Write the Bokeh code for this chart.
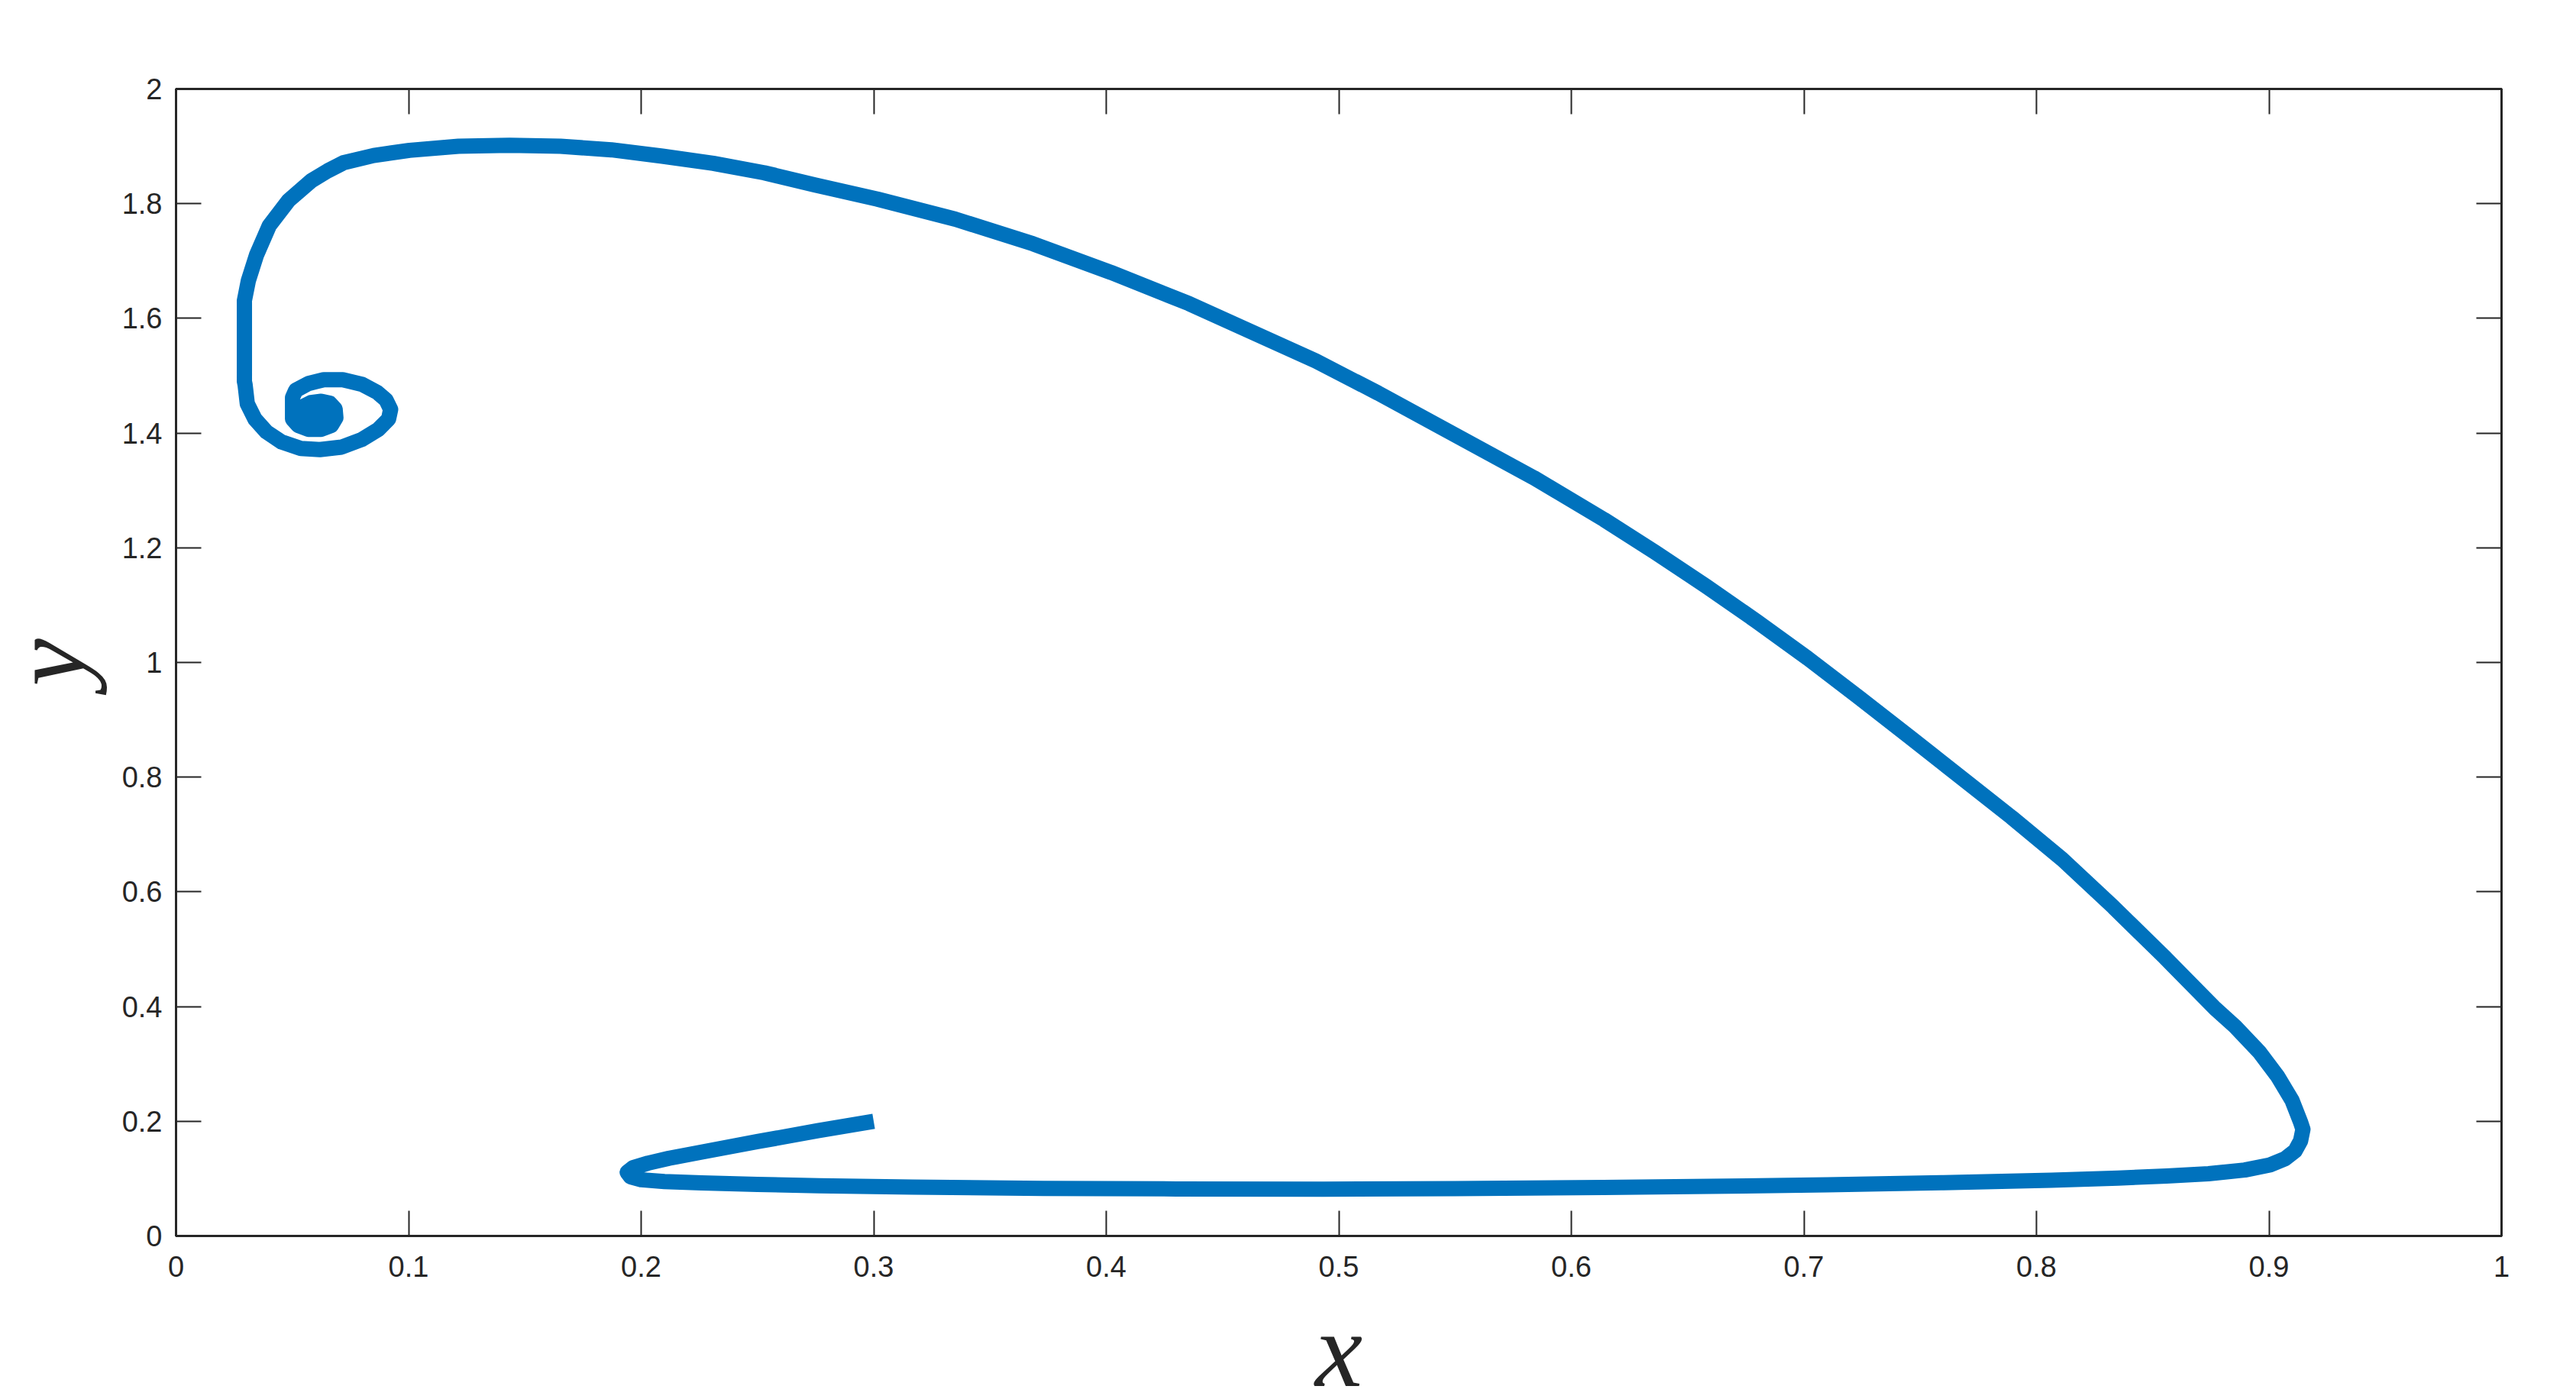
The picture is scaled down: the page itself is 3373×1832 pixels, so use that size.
from bokeh.plotting import figure
from bokeh.models import Range1d, FixedTicker, LinearAxis, Label
from bokeh.layouts import row, column
from bokeh.embed import file_html
from bokeh.resources import INLINE

# ---- data ----
traj_x = [0.300, 0.276, 0.250, 0.225, 0.212, 0.203, 0.1965, 0.194, 0.1955, 0.200,
          0.210, 0.226, 0.250, 0.2766, 0.3165, 0.3729, 0.430, 0.4933, 0.550, 0.6138,
          0.660, 0.7101, 0.760, 0.8065, 0.835, 0.856, 0.874, 0.8896, 0.9004, 0.907,
          0.9112, 0.9136, 0.9146, 0.9136, 0.9099, 0.9036, 0.8960, 0.8854, 0.8768, 0.8549,
          0.8331, 0.8112, 0.7893, 0.7455, 0.7236, 0.7017, 0.6798, 0.6579, 0.636, 0.6141,
          0.5839, 0.5169, 0.4901, 0.4692, 0.4356, 0.4021, 0.3686, 0.3351, 0.3016, 0.2748,
          0.2529, 0.231, 0.2091, 0.1872, 0.1653, 0.1434, 0.1215, 0.1004, 0.085, 0.0721,
          0.0652, 0.0582, 0.0485, 0.0401, 0.0346, 0.0311, 0.0294, 0.0294, 0.0297, 0.03065,
          0.03393, 0.03886, 0.04543, 0.05364, 0.06184, 0.07116, 0.0799, 0.08703, 0.0914, 0.09228,
          0.09031, 0.08648, 0.0799, 0.0717, 0.0635, 0.0569, 0.05145, 0.0501, 0.0501, 0.05254,
          0.05692, 0.0624, 0.06677, 0.06874, 0.0684, 0.0662, 0.0624, 0.058, 0.0547, 0.0536,
          0.0547, 0.0591, 0.0635, 0.0657, 0.0646, 0.0613, 0.0591, 0.061]
traj_y = [0.200, 0.1835, 0.1645, 0.1455, 0.1355, 0.127, 0.119, 0.111, 0.103, 0.098,
          0.095, 0.0925, 0.090, 0.0875, 0.0852, 0.0830, 0.082, 0.0817, 0.0825, 0.0845,
          0.0865, 0.0892, 0.093, 0.0972, 0.101, 0.1045, 0.1085, 0.115, 0.1238, 0.1349,
          0.1482, 0.166, 0.186, 0.1983, 0.2366, 0.2791, 0.320, 0.3654, 0.3968, 0.4869,
          0.5735, 0.6565, 0.730, 0.870, 0.9392, 1.0071, 1.0715, 1.1332, 1.1922, 1.249,
          1.322, 1.4697, 1.5257, 1.5641, 1.6258, 1.6800, 1.7300, 1.7730, 1.808, 1.8326,
          1.8539, 1.8704, 1.8828, 1.8939, 1.9001, 1.9019, 1.9001, 1.893, 1.884, 1.8715,
          1.8572, 1.840, 1.806, 1.7616, 1.7104, 1.6658, 1.631, 1.490, 1.4843, 1.4510,
          1.4244, 1.4021, 1.3844, 1.3733, 1.3711, 1.3755, 1.3888, 1.4066, 1.4244, 1.4412,
          1.4577, 1.4710, 1.4851, 1.4931, 1.4931, 1.4864, 1.4745, 1.4620, 1.4244, 1.4133,
          1.4066, 1.4066, 1.4133, 1.4266, 1.4421, 1.4519, 1.4554, 1.4532, 1.4465, 1.4354,
          1.4244, 1.4177, 1.4199, 1.4288, 1.4377, 1.4399, 1.4332, 1.428]

x_ticks = [0.0, 0.1, 0.2, 0.3, 0.4, 0.5, 0.6, 0.7, 0.8, 0.9, 1.0]
x_tick_labels = ["0", "0.1", "0.2", "0.3", "0.4", "0.5", "0.6", "0.7", "0.8", "0.9", "1"]
y_ticks = [0.0, 0.2, 0.4, 0.6, 0.8, 1.0, 1.2, 1.4, 1.6, 1.8, 2.0]
y_tick_labels = ["0", "0.2", "0.4", "0.6", "0.8", "1", "1.2", "1.4", "1.6", "1.8", "2"]
x_label = "x"
y_label = "y"

AX = "#262626"
LINE = "#0072BD"
TICK_FONT = "Liberation Sans"
TICK_SIZE = "38px"
LAB_FONT = "Liberation Serif"
LAB_SIZE = "140px"

TOTAL_W, TOTAL_H = 3373, 1832
YLAB_W = 150                      # strip that carries the y label
MAIN_W = TOTAL_W - YLAB_W
BOTTOM = 71
MAIN_H = 116 + 1502 + BOTTOM
XLAB_H = TOTAL_H - MAIN_H
BL, BR = 230 - YLAB_W, TOTAL_W - 3275


def bare(fig):
    fig.xaxis.visible = False
    fig.yaxis.visible = False
    fig.grid.visible = False
    fig.outline_line_color = None
    fig.background_fill_color = "white"
    fig.border_fill_color = "white"


p = figure(width=MAIN_W, height=MAIN_H, output_backend="svg", toolbar_location=None,
           x_range=Range1d(0, 1), y_range=Range1d(0, 2),
           min_border_left=BL, min_border_right=BR, min_border_top=116, min_border_bottom=BOTTOM)
p.background_fill_color = "white"
p.border_fill_color = "white"
p.outline_line_color = AX
p.outline_line_width = 3
p.grid.visible = False

p.line(traj_x, traj_y, line_width=20, line_color=LINE, line_join="round", line_cap="butt")


def style_axis(ax, ticks, labels, show_labels, standoff):
    ax.ticker = FixedTicker(ticks=ticks)
    if show_labels:
        ax.major_label_overrides = {t: l for t, l in zip(ticks, labels)}
    else:
        ax.major_label_overrides = {t: "" for t in ticks}
    ax.major_tick_in = 33
    ax.major_tick_out = 0
    ax.minor_tick_in = 0
    ax.minor_tick_out = 0
    ax.major_tick_line_color = AX
    ax.major_tick_line_width = 2
    ax.axis_line_color = AX
    ax.axis_line_width = 3
    ax.major_label_text_font = TICK_FONT
    ax.major_label_text_font_size = TICK_SIZE
    ax.major_label_text_color = AX
    ax.major_label_standoff = standoff


style_axis(p.xaxis[0], x_ticks, x_tick_labels, True, 26)
style_axis(p.yaxis[0], y_ticks, y_tick_labels, True, 18)

top = LinearAxis()
style_axis(top, x_ticks, x_tick_labels, False, 0)
p.add_layout(top, "above")
right = LinearAxis()
style_axis(right, y_ticks, y_tick_labels, False, 0)
p.add_layout(right, "right")

# strip below the plot carrying the x label (same horizontal mapping as the plot)
fx = figure(width=MAIN_W, height=XLAB_H, output_backend="svg", toolbar_location=None,
            x_range=Range1d(0, 1), y_range=Range1d(0, XLAB_H),
            min_border_left=BL, min_border_right=BR, min_border_top=0, min_border_bottom=0)
bare(fx)
fx.add_layout(Label(x=0.5, y=65, text=x_label, text_font=LAB_FONT,
                    text_font_style="italic", text_font_size=LAB_SIZE, text_color=AX,
                    text_align="center", text_baseline="alphabetic"))

# strip left of the plot carrying the y label
fy = figure(width=YLAB_W, height=TOTAL_H, output_backend="svg", toolbar_location=None,
            x_range=Range1d(0, YLAB_W), y_range=Range1d(0, TOTAL_H),
            min_border=0)
bare(fy)
fy.add_layout(Label(x=62, y=TOTAL_H - 867, text=y_label, text_font=LAB_FONT,
                    text_font_style="italic", text_font_size=LAB_SIZE, text_color=AX,
                    text_align="center", text_baseline="alphabetic", angle=1.5707963))

layout = row(fy, column(p, fx, spacing=0), spacing=0)

open("out.html", "w").write(file_html(layout, INLINE))
